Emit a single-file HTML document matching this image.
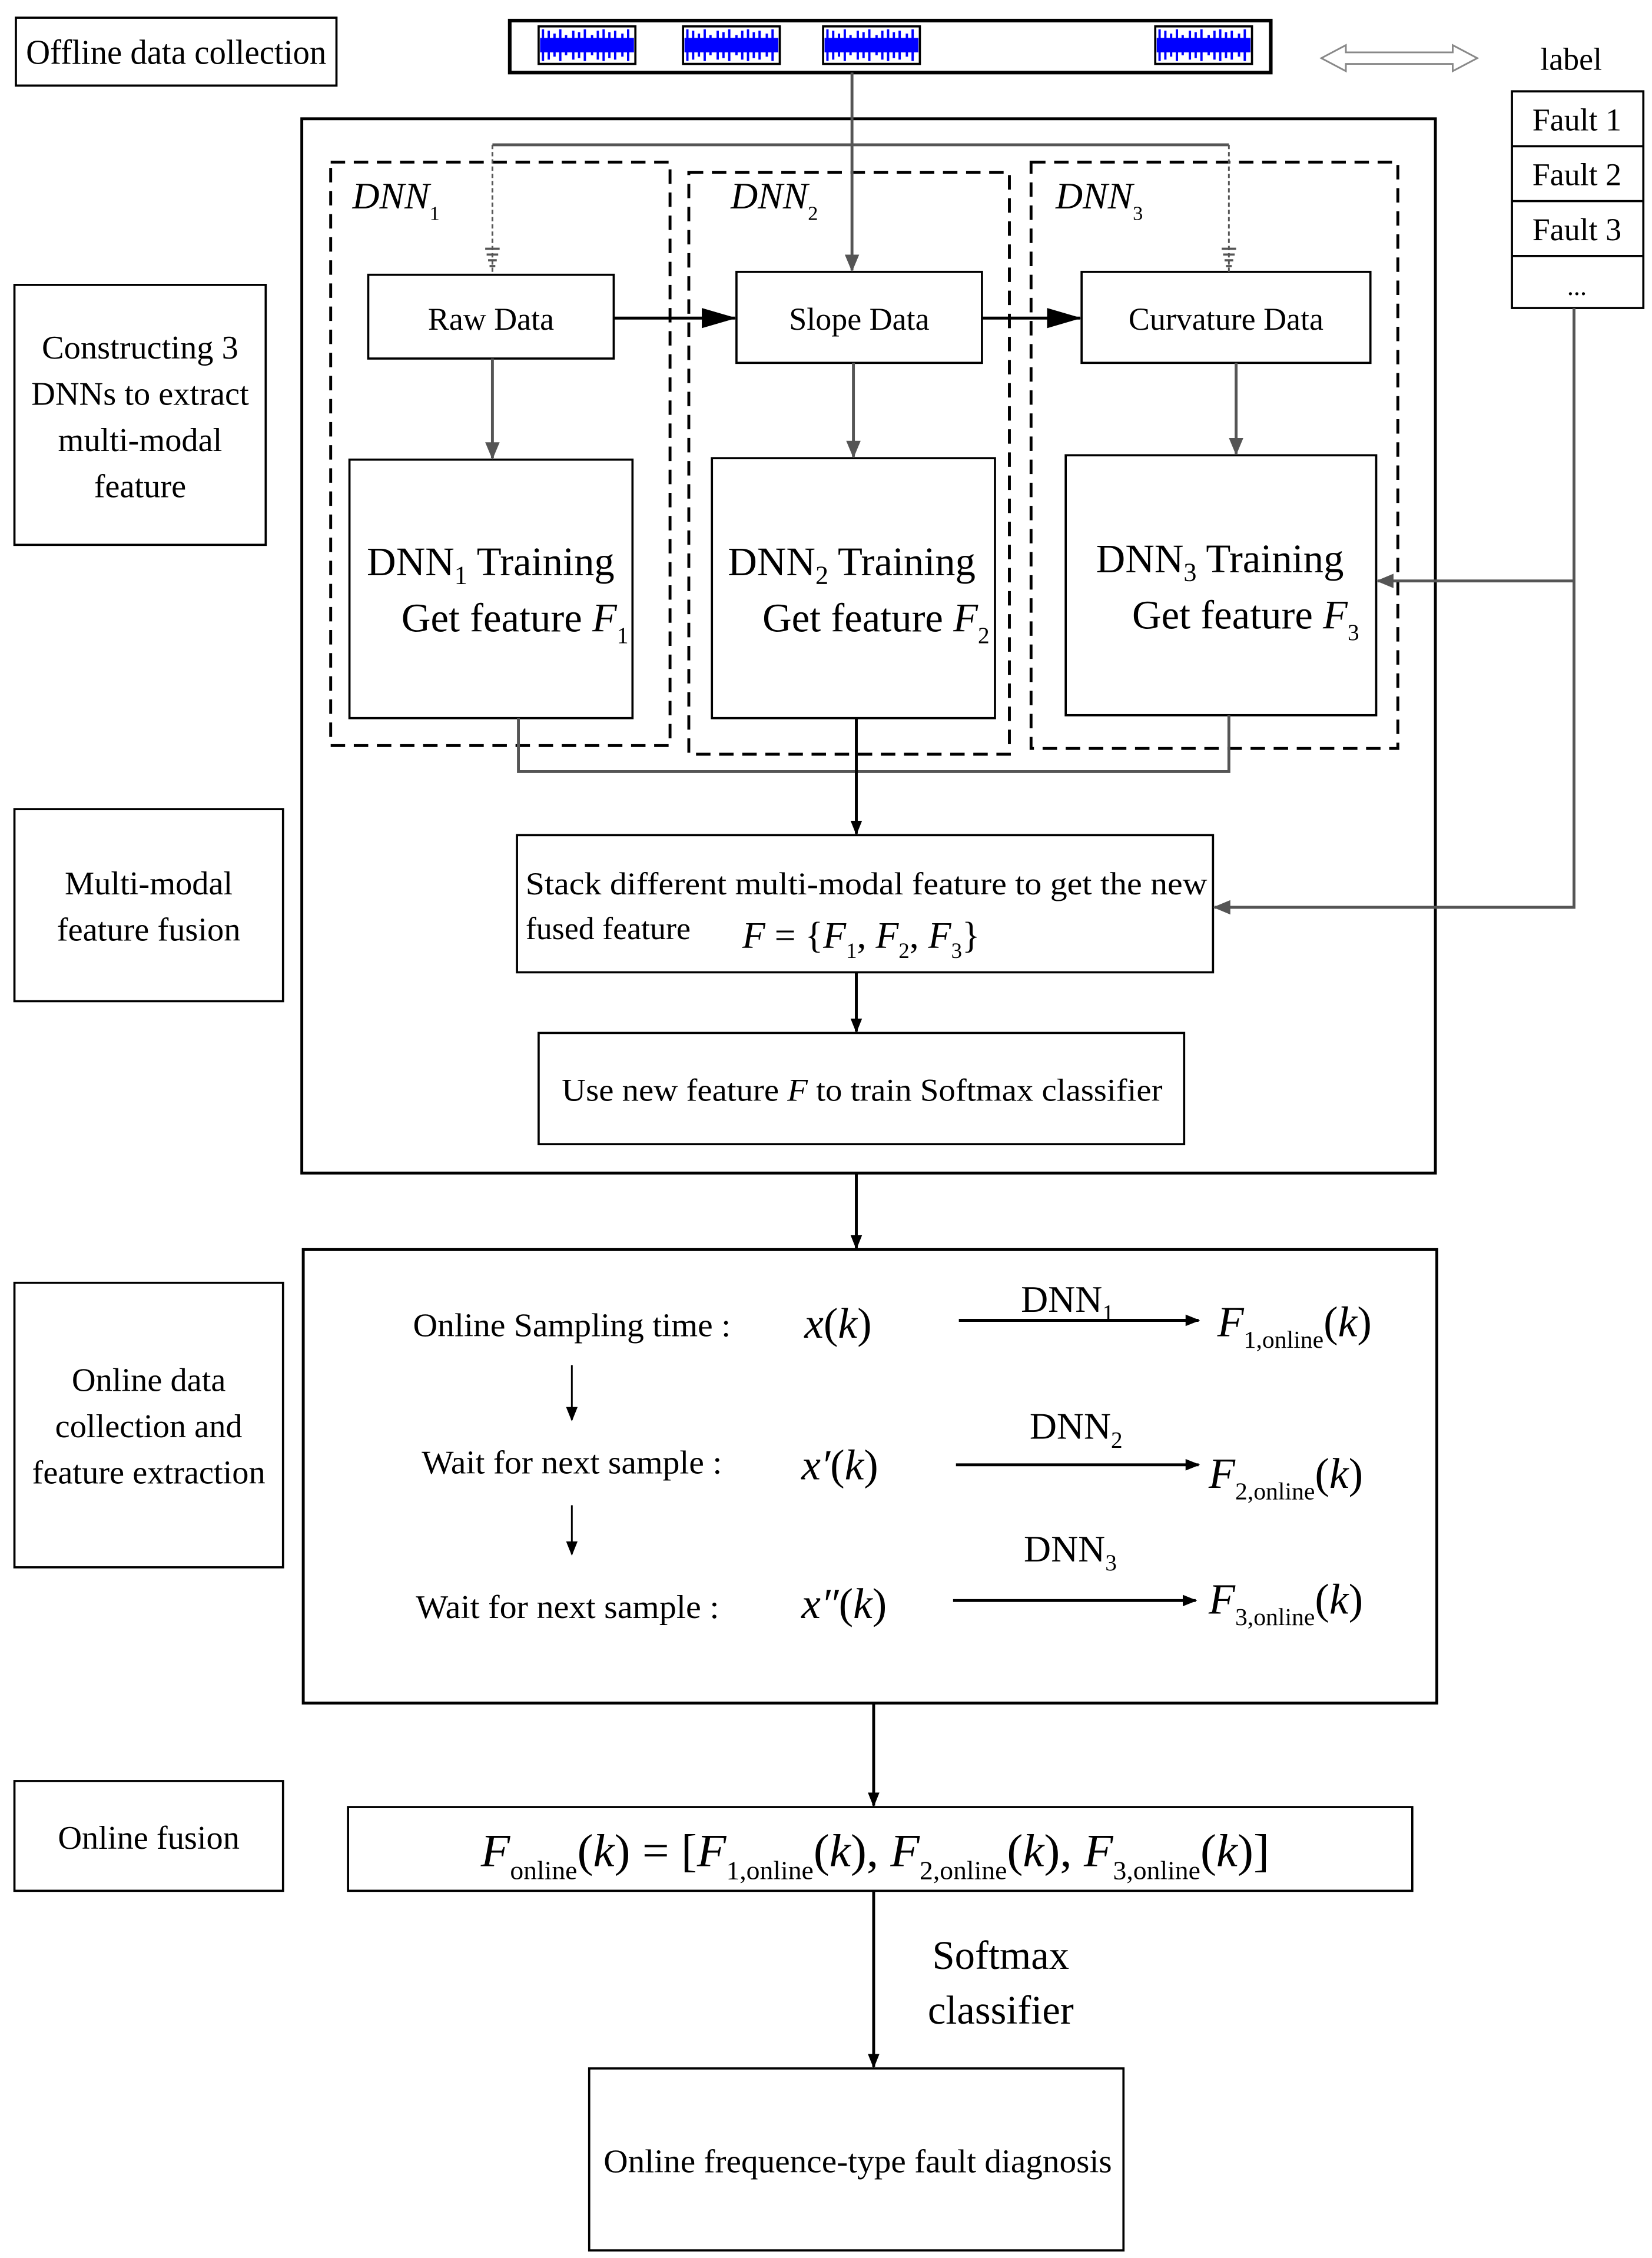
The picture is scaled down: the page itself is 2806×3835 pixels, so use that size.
<!DOCTYPE html>
<html><head><meta charset="utf-8"><style>
html,body{margin:0;padding:0;background:#fff}
svg{display:block}
text{font-family:"Liberation Serif",serif;fill:#000}
.i{font-style:italic}
.n{font-style:normal}
</style></head><body>
<svg width="2806" height="3835" viewBox="0 0 1144 1563" xmlns="http://www.w3.org/2000/svg">
<defs>
<marker id="ab" markerWidth="10" markerHeight="10" refX="9" refY="5" orient="auto" markerUnits="userSpaceOnUse"><path d="M0,1 L10,5 L0,9 Z" fill="#000"/></marker>
<marker id="ag" markerWidth="12" markerHeight="12" refX="11" refY="6" orient="auto" markerUnits="userSpaceOnUse"><path d="M0,1 L12,6 L0,11 Z" fill="#555"/></marker>
<marker id="ab2" markerWidth="24" markerHeight="14" refX="23" refY="7" orient="auto" markerUnits="userSpaceOnUse"><path d="M0,0 L24,7 L0,14 Z" fill="#000"/></marker>
<g id="wave">
<rect x="0" y="0" width="67" height="26" fill="#fff" stroke="#000" stroke-width="1.5"/>
<rect x="1" y="8" width="65" height="10" fill="#00f"/>
<path d="M3,2V24M7,3V23M11,5V21M15,2V24M19,6V20M24,3V23M28,4V22M32,2V24M37,6V20M41,3V23M45,2V24M49,4V22M53,3V23M58,5V21M62,2V24" stroke="#00f" stroke-width="1.6"/>
</g>
</defs>
<g fill="none" stroke="#000" stroke-width="1.5">
<rect x="11" y="12" width="222" height="47"/>
<rect x="353" y="14" width="527" height="36" stroke-width="2.5"/>
<rect x="1047" y="63" width="91" height="150"/>
<line x1="1047" y1="101" x2="1138" y2="101"/><line x1="1047" y1="139" x2="1138" y2="139"/><line x1="1047" y1="177" x2="1138" y2="177"/>
<rect x="209" y="82" width="785" height="730" stroke-width="2"/>
<rect x="10" y="197" width="174" height="180"/>
<rect x="10" y="560" width="186" height="133"/>
<rect x="10" y="888" width="186" height="197"/>
<rect x="10" y="1233" width="186" height="76"/>
<rect x="255" y="190" width="170" height="58"/>
<rect x="510" y="188" width="170" height="63"/>
<rect x="749" y="188" width="200" height="63"/>
<rect x="242" y="318" width="196" height="179"/>
<rect x="493" y="317" width="196" height="180"/>
<rect x="738" y="315" width="215" height="180"/>
<rect x="358" y="578" width="482" height="95"/>
<rect x="373" y="715" width="447" height="77"/>
<rect x="210" y="865" width="785" height="314" stroke-width="2"/>
<rect x="241" y="1251" width="737" height="58"/>
<rect x="408" y="1432" width="370" height="126"/>
<g stroke-dasharray="10,6" stroke-width="2">
<rect x="229" y="112" width="235" height="404"/>
<rect x="477" y="119" width="222" height="403"/>
<rect x="714" y="112" width="254" height="406"/>
</g>
</g>
<use href="#wave" x="373" y="18"/><use href="#wave" x="473" y="18"/><use href="#wave" x="570" y="18"/><use href="#wave" x="800" y="18"/>
<path d="M915,40 L932,31 L932,36 L1006,36 L1006,31 L1023,40 L1006,49 L1006,44 L932,44 L932,49 Z" fill="#fff" stroke="#888" stroke-width="1.2"/>
<g stroke="#555" stroke-width="2" fill="none">
<line x1="590" y1="50" x2="590" y2="187" marker-end="url(#ag)"/>
<polyline points="341,100 851,100"/>
<line x1="341" y1="100" x2="341" y2="190" stroke-dasharray="3,2" stroke-width="1.2"/>
<line x1="851" y1="100" x2="851" y2="188" stroke-dasharray="3,2" stroke-width="1.2"/>
<path d="M336,172h10M337,176h8M338,180h6M339,184h4M846,172h10M847,176h8M848,180h6M849,184h4" stroke-width="1.5"/>
<line x1="341" y1="248" x2="341" y2="317" marker-end="url(#ag)"/>
<line x1="591" y1="251" x2="591" y2="316" marker-end="url(#ag)"/>
<line x1="856" y1="251" x2="856" y2="314" marker-end="url(#ag)"/>
<polyline points="359,497 359,534 851,534 851,495"/>
<polyline points="1090,213 1090,628 841,628" marker-end="url(#ag)"/>
<polyline points="1090,402 954,402" marker-end="url(#ag)"/>
</g>
<g stroke="#000" stroke-width="2" fill="none">
<line x1="425" y1="220" x2="509" y2="220" marker-end="url(#ab2)"/>
<line x1="680" y1="220" x2="748" y2="220" marker-end="url(#ab2)"/>
<line x1="593" y1="497" x2="593" y2="577" marker-end="url(#ab)"/>
<line x1="593" y1="673" x2="593" y2="714" marker-end="url(#ab)"/>
<line x1="593" y1="812" x2="593" y2="864" marker-end="url(#ab)"/>
<line x1="605" y1="1179" x2="605" y2="1250" marker-end="url(#ab)"/>
<line x1="605" y1="1309" x2="605" y2="1431" marker-end="url(#ab)"/>
<line x1="664" y1="914" x2="830" y2="914" marker-end="url(#ab)"/>
<line x1="662" y1="1014" x2="830" y2="1014" marker-end="url(#ab)"/>
<line x1="660" y1="1108" x2="828" y2="1108" marker-end="url(#ab)"/>
<line x1="396" y1="945" x2="396" y2="983" stroke-width="1.2" marker-end="url(#ab)"/>
<line x1="396" y1="1042" x2="396" y2="1076" stroke-width="1.2" marker-end="url(#ab)"/>
</g>
<g font-size="24">
<text x="18" y="44" textLength="208" lengthAdjust="spacingAndGlyphs">Offline data collection</text>
<text x="1088" y="48" text-anchor="middle" font-size="22">label</text>
<text x="1092" y="90" text-anchor="middle" font-size="22">Fault 1</text>
<text x="1092" y="128" text-anchor="middle" font-size="22">Fault 2</text>
<text x="1092" y="166" text-anchor="middle" font-size="22">Fault 3</text>
<text x="1092" y="204" text-anchor="middle" font-size="18">...</text>
<g text-anchor="middle" font-size="23">
<text x="97" y="248">Constructing 3</text>
<text x="97" y="280">DNNs to extract</text>
<text x="97" y="312">multi-modal</text>
<text x="97" y="344">feature</text>
<text x="103" y="619">Multi-modal</text>
<text x="103" y="651">feature  fusion</text>
<text x="103" y="963">Online data</text>
<text x="103" y="995">collection and</text>
<text x="103" y="1027">feature extraction</text>
<text x="103" y="1280">Online fusion</text>
<text x="340" y="228" font-size="22">Raw Data</text>
<text x="595" y="228" font-size="22">Slope Data</text>
<text x="849" y="228" font-size="22">Curvature Data</text>
</g>
<text x="244" y="144" class="i" font-size="26">DNN<tspan class="n" font-size="14" dy="8">1</tspan></text>
<text x="506" y="144" class="i" font-size="26">DNN<tspan class="n" font-size="14" dy="8">2</tspan></text>
<text x="731" y="144" class="i" font-size="26">DNN<tspan class="n" font-size="14" dy="8">3</tspan></text>
<g font-size="28">
<text x="254" y="398">DNN<tspan font-size="18" dy="6">1</tspan><tspan dy="-6"> Training</tspan></text>
<text x="278" y="437">Get feature <tspan class="i">F</tspan><tspan font-size="16" dy="8">1</tspan></text>
<text x="504" y="398">DNN<tspan font-size="18" dy="6">2</tspan><tspan dy="-6"> Training</tspan></text>
<text x="528" y="437">Get feature <tspan class="i">F</tspan><tspan font-size="16" dy="8">2</tspan></text>
<text x="759" y="396">DNN<tspan font-size="18" dy="6">3</tspan><tspan dy="-6"> Training</tspan></text>
<text x="784" y="435">Get feature <tspan class="i">F</tspan><tspan font-size="16" dy="8">3</tspan></text>
</g>
<text x="364" y="619" font-size="22" textLength="472" lengthAdjust="spacingAndGlyphs">Stack different multi-modal feature to get the new</text>
<text x="364" y="650" font-size="22">fused feature</text>
<text x="514" y="656" font-size="26"><tspan class="i">F</tspan> = {<tspan class="i">F</tspan><tspan font-size="15" dy="7">1</tspan><tspan dy="-7">, </tspan><tspan class="i">F</tspan><tspan font-size="15" dy="7">2</tspan><tspan dy="-7">, </tspan><tspan class="i">F</tspan><tspan font-size="15" dy="7">3</tspan><tspan dy="-7">}</tspan></text>
<text x="389" y="762" font-size="22" textLength="416" lengthAdjust="spacingAndGlyphs">Use new feature <tspan class="i">F</tspan> to train Softmax classifier</text>
<text x="286" y="925" font-size="23" textLength="220" lengthAdjust="spacingAndGlyphs">Online Sampling time :</text>
<text x="292" y="1020" font-size="23" textLength="208" lengthAdjust="spacingAndGlyphs">Wait for next sample :</text>
<text x="288" y="1120" font-size="23" textLength="210" lengthAdjust="spacingAndGlyphs">Wait for next sample :</text>
<g font-size="30">
<text x="557" y="926"><tspan class="i">x</tspan>(<tspan class="i">k</tspan>)</text>
<text x="555" y="1024"><tspan class="i">x′</tspan>(<tspan class="i">k</tspan>)</text>
<text x="555" y="1120"><tspan class="i">x″</tspan>(<tspan class="i">k</tspan>)</text>
<text x="843" y="925"><tspan class="i">F</tspan><tspan font-size="17" dy="8">1,online</tspan><tspan dy="-8">(</tspan><tspan class="i">k</tspan>)</text>
<text x="837" y="1030"><tspan class="i">F</tspan><tspan font-size="17" dy="8">2,online</tspan><tspan dy="-8">(</tspan><tspan class="i">k</tspan>)</text>
<text x="837" y="1117"><tspan class="i">F</tspan><tspan font-size="17" dy="8">3,online</tspan><tspan dy="-8">(</tspan><tspan class="i">k</tspan>)</text>
</g>
<g font-size="26">
<text x="707" y="908">DNN<tspan font-size="16" dy="6">1</tspan></text>
<text x="713" y="996">DNN<tspan font-size="16" dy="6">2</tspan></text>
<text x="709" y="1081">DNN<tspan font-size="16" dy="6">3</tspan></text>
</g>
<text x="333" y="1292" font-size="32" textLength="546" lengthAdjust="spacingAndGlyphs"><tspan class="i">F</tspan><tspan font-size="18" dy="9">online</tspan><tspan dy="-9">(</tspan><tspan class="i">k</tspan>) = [<tspan class="i">F</tspan><tspan font-size="18" dy="9">1,online</tspan><tspan dy="-9">(</tspan><tspan class="i">k</tspan>), <tspan class="i">F</tspan><tspan font-size="18" dy="9">2,online</tspan><tspan dy="-9">(</tspan><tspan class="i">k</tspan>), <tspan class="i">F</tspan><tspan font-size="18" dy="9">3,online</tspan><tspan dy="-9">(</tspan><tspan class="i">k</tspan>)]</text>
<text x="693" y="1363" text-anchor="middle" font-size="28">Softmax</text>
<text x="693" y="1401" text-anchor="middle" font-size="28">classifier</text>
<text x="594" y="1504" text-anchor="middle" font-size="23" textLength="352" lengthAdjust="spacingAndGlyphs">Online frequence-type fault diagnosis</text>
</g>
</svg>
</body></html>
